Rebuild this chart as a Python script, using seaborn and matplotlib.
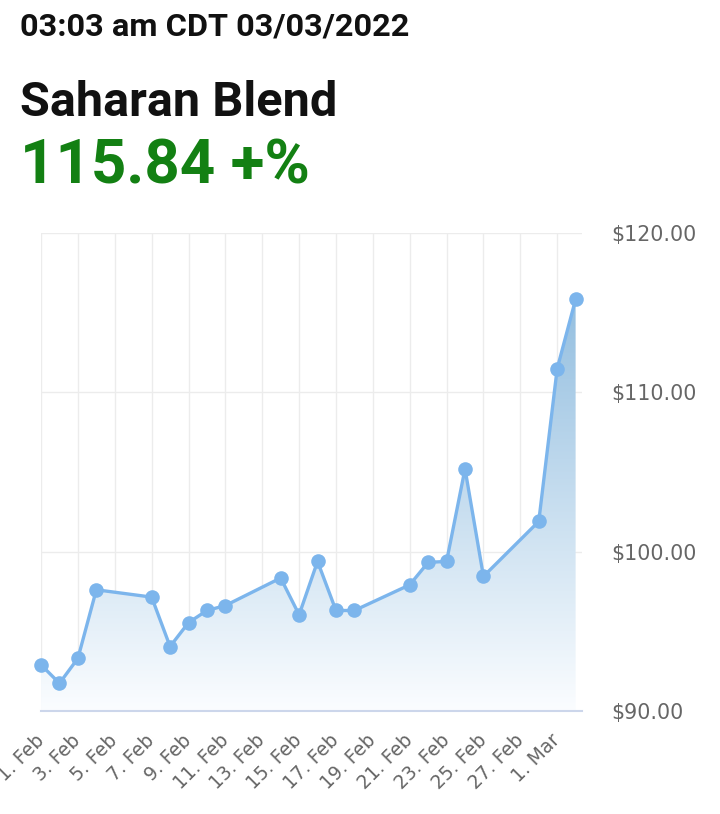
import matplotlib
matplotlib.use("Agg")
import matplotlib.pyplot as plt
import matplotlib.dates as mdates
from matplotlib.colors import LinearSegmentedColormap
import numpy as np
import pandas as pd
import seaborn as sns

# --- data ---
dates = ["2022-02-01", "2022-02-02", "2022-02-03", "2022-02-04", "2022-02-07",
         "2022-02-08", "2022-02-09", "2022-02-10", "2022-02-11", "2022-02-14",
         "2022-02-15", "2022-02-16", "2022-02-17", "2022-02-18", "2022-02-21",
         "2022-02-22", "2022-02-23", "2022-02-24", "2022-02-25", "2022-02-28",
         "2022-03-01", "2022-03-02"]
prices = [92.90, 91.74, 93.31, 97.61, 97.15, 94.05, 95.55, 96.31, 96.62, 98.35,
          96.04, 99.39, 96.31, 96.31, 97.92, 99.33, 99.39, 105.20, 98.45, 101.90,
          111.49, 115.84]
y_ticks = [90, 100, 110, 120]
timestamp = "03:03 am CDT 03/03/2022"
blend_name = "Saharan Blend"
last_quote = "115.84 +%"

LINE = "#7cb5ec"
LABEL_GREY = "#666666"
AXIS_LINE = "#ccd6eb"
GRID = "#ececec"

sns.set_style("white")
plt.rcParams["font.family"] = ["DejaVu Sans"]
HEAD_FONT = ["Roboto", "DejaVu Sans"]

df = pd.DataFrame({"date": pd.to_datetime(dates), "price": prices})

fig = plt.figure(figsize=(7.2, 8.14), dpi=100)
ax = fig.add_axes([0.057, 0.1265, 0.751, 0.5872])

# gradient area under the line
poly = ax.fill_between(df["date"], df["price"], y_ticks[0],
                       facecolor="none", edgecolor="none")
fade = LinearSegmentedColormap.from_list("fade", ["#fbfdff", "#94bfe0"])
grad = np.linspace(0, 1, 256).reshape(-1, 1)
x0 = mdates.date2num(df["date"].iloc[0])
x1 = mdates.date2num(df["date"].iloc[-1])
im = ax.imshow(grad, cmap=fade, aspect="auto", origin="lower",
               extent=[x0, x1, y_ticks[0], max(prices)], zorder=1)
im.set_clip_path(poly.get_paths()[0], transform=ax.transData)

sns.lineplot(data=df, x="date", y="price", ax=ax, color=LINE, linewidth=2.4,
             marker="o", markersize=10.5, markeredgewidth=0, clip_on=False, zorder=4)

ax.set_xlim(df["date"].iloc[0], df["date"].iloc[-1] + pd.Timedelta(hours=8))
ax.set_ylim(y_ticks[0], y_ticks[-1])
ax.set_yticks(y_ticks)
ax.set_yticklabels([f"${v:.2f}" for v in y_ticks])
ax.yaxis.tick_right()

ax.xaxis.set_major_locator(mdates.DayLocator(bymonthday=range(1, 32, 2)))
ax.xaxis.set_major_formatter(mdates.DateFormatter("%-d. %b"))
ax.set_xlabel("")
ax.set_ylabel("")

ax.grid(True, color=GRID, linewidth=1)
ax.set_axisbelow(True)
for side in ["top", "left", "right"]:
    ax.spines[side].set_visible(False)
ax.spines["bottom"].set_color(AXIS_LINE)
ax.spines["bottom"].set_linewidth(1.5)

ax.tick_params(axis="x", length=13, width=1.3, color=AXIS_LINE,
               labelsize=13.5, labelcolor=LABEL_GREY, pad=6)
ax.tick_params(axis="y", length=0, labelsize=14.8, labelcolor=LABEL_GREY, pad=21.5)
for lbl in ax.get_xticklabels():
    lbl.set_rotation(45)
    lbl.set_ha("right")
    lbl.set_va("center")
    lbl.set_rotation_mode("anchor")

# header texts
fig.text(20 / 720, 1 - 36 / 814, timestamp, fontsize=23.4, fontweight="bold",
         family=HEAD_FONT, color="#111111", va="baseline")
fig.text(20 / 720, 1 - 116 / 814, blend_name, fontsize=35, fontweight="bold",
         family=HEAD_FONT, color="#111111", va="baseline")
fig.text(20 / 720, 1 - 183 / 814, last_quote, fontsize=44.5, fontweight="bold",
         family=HEAD_FONT, color="#138013", va="baseline")

fig.savefig("out.png", dpi=100)
